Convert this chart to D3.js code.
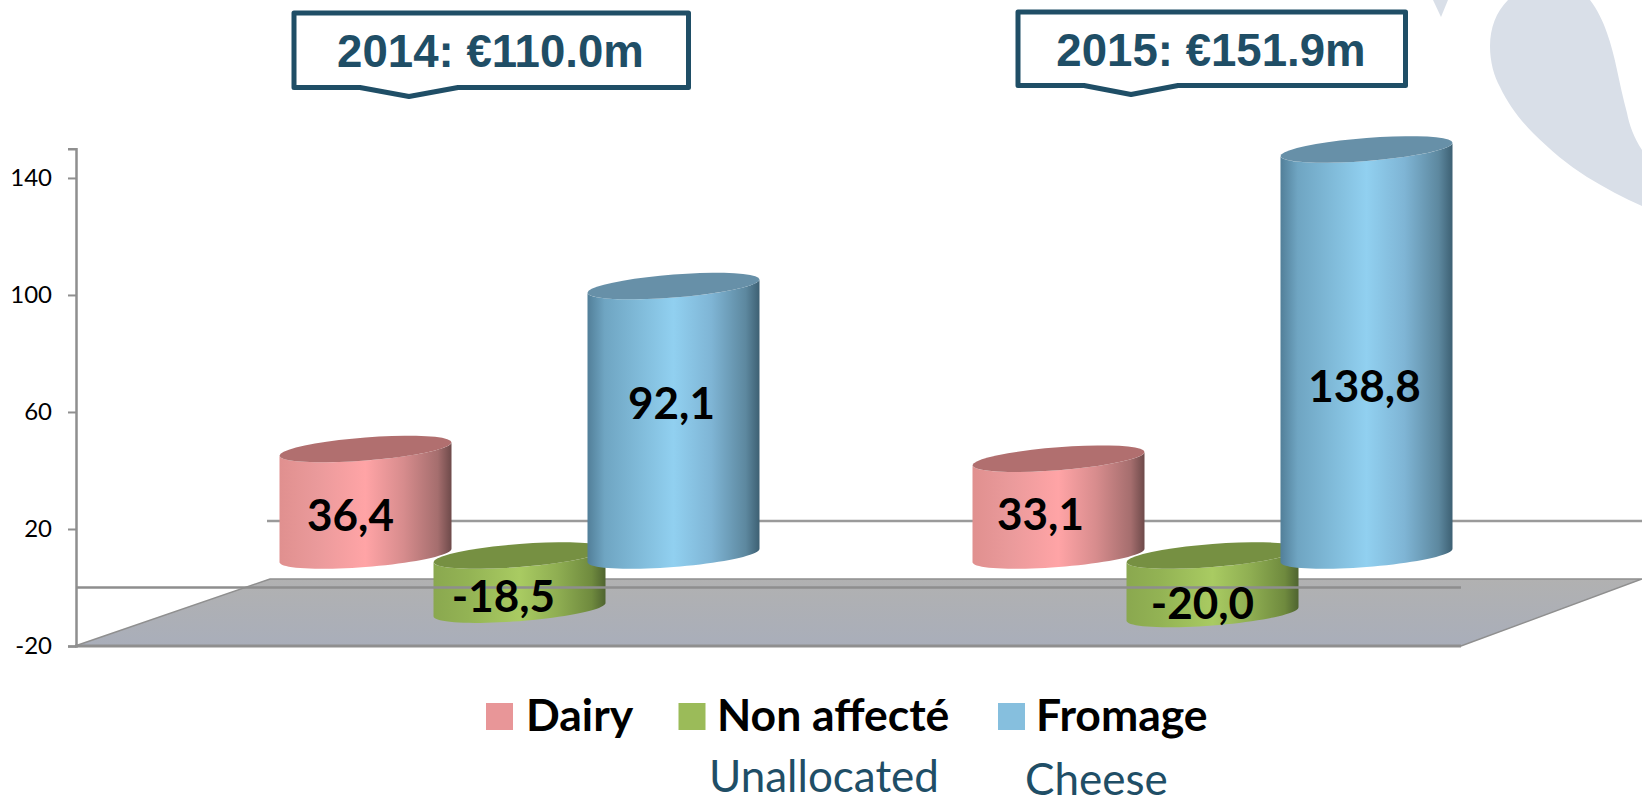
<!DOCTYPE html>
<html><head><meta charset="utf-8">
<script src="https://cdn.jsdelivr.net/npm/d3@7"></script>
<style>html,body{margin:0;padding:0;background:#fff;overflow:hidden}svg{display:block}</style>
</head><body><svg id="c" width="1642" height="799"></svg>
<script>
const years = ["2014", "2015"];
const yearTotals = ["2014: €110.0m", "2015: €151.9m"];
const seriesNames = ["Dairy", "Non affecté", "Fromage"];
const seriesTranslations = ["", "Unallocated", "Cheese"];
const dairy = [36.4, 33.1];
const unallocated = [-18.5, -20.0];
const fromage = [92.1, 138.8];
const tickValues = [-20, 20, 60, 100, 140];

const svg = d3.select("#c");
const defs = svg.append("defs");
const INK = "#1f4e66", AXIS = "#8f8f8f";
const y = d3.scaleLinear().domain([-20, 150]).range([646, 148.7]);
const xYear = d3.scaleBand().domain(years).range([173, 1559]);
const xSeries = d3.scaleBand().domain(seriesNames).range([-231, 231]);
const W = 86, H = 13.3, PHI = Math.PI / 3, LIFT = 32;

const skins = [
 {top:"#b16f6f", stops:[[0,"#e0908f"],[.22,"#ea9a9b"],[.5,"#ffa4a6"],[.72,"#d78c8d"],[.92,"#a56e6e"],[1,"#6e4a4a"]], swatch:"#e89698"},
 {top:"#769042", stops:[[0,"#8aa84f"],[.2,"#93b354"],[.5,"#a9cb62"],[.72,"#8fae52"],[.92,"#6f8a3e"],[1,"#4f6430"]], swatch:"#9bbb59"},
 {top:"#6790a8", stops:[[0,"#527f99"],[.1,"#6fa5c2"],[.5,"#91d0f0"],[.72,"#7fb5d5"],[.92,"#5d889f"],[1,"#3d6073"]], swatch:"#86bfde"}
];
skins.forEach((s,i)=>{
  const g = defs.append("linearGradient").attr("id","g"+i);
  s.stops.forEach(p=>g.append("stop").attr("offset",p[0]).attr("stop-color",p[1]));
});
const floorGrad = defs.append("linearGradient").attr("id","floor").attr("x1",0).attr("x2",0).attr("y1",0).attr("y2",1);
floorGrad.append("stop").attr("offset",0).attr("stop-color","#b1b1b1");
floorGrad.append("stop").attr("offset",1).attr("stop-color","#a9aeba");

// watermark shapes
svg.append("path").attr("fill","#d9dfe8")
 .attr("d","M1508,0 C1496,12 1490,28 1490,46 C1490,62 1494,76 1500,87 C1508,104 1520,120 1533,133 C1550,150 1568,165 1587,177 C1605,188 1624,198 1642,206 L1642,150 C1634,138 1629,124 1627,113 C1623,98 1620,84 1617,70 C1614,56 1611,44 1607,33 C1603,21 1597,9 1590,0 Z");
svg.append("path").attr("fill","#d9dfe8").attr("d","M1433,0 L1448,0 L1441,17 Z");

// back wall line
svg.append("line").attr("x1",267).attr("x2",1642).attr("y1",y(20)-8).attr("y2",y(20)-8)
 .attr("stroke","#9a9a9a").attr("stroke-width",2.5);

// floor
svg.append("path").attr("d",`M75,${y(-20)} L270,${y(0)-8.5} L1642,${y(0)-8.5} L1461,${y(-20)} Z`)
 .attr("fill","url(#floor)").attr("stroke","#8f8f8f").attr("stroke-width",1.5);
svg.append("line").attr("x1",75).attr("x2",1461).attr("y1",y(-20)).attr("y2",y(-20))
 .attr("stroke",AXIS).attr("stroke-width",3);

// axis
const axis = svg.append("g").attr("transform","translate(76,0)")
 .call(d3.axisLeft(y).tickValues(tickValues).tickSize(8).tickPadding(16).tickFormat(d=>String(d)));
axis.select(".domain").attr("stroke",AXIS).attr("stroke-width",2.5);
axis.selectAll(".tick line").attr("stroke",AXIS).attr("stroke-width",2);
axis.selectAll("text").attr("font-family","Lato").attr("font-size",24).attr("fill","#000");

function pt(cx, cy, t){ return [cx + W*Math.cos(t), cy - H*Math.cos(t-PHI)]; }
const line = d3.line();
function arc(cx, cy, a, b){ return d3.range(0,41).map(i=>pt(cx,cy,a+(b-a)*i/40)); }

const seriesValues = [dairy, unallocated, fromage];
const labelNudge = [[[-15,12.5],[-18,7]],[[-16,14],[-10,18]],[[-2,-18],[-2,34]]];
const fmt = v => d3.format(".1f")(v).replace(".",",").replace("−","-");
const labels = [];
seriesValues.forEach((vals,si)=>{
  vals.forEach((v,yi)=>{
    const cx = xYear(years[yi]) + xYear.bandwidth()/2 + xSeries(seriesNames[si]) + xSeries.bandwidth()/2;
    const yTop = y(Math.max(v,0)) - LIFT, yBot = y(Math.min(v,0)) - LIFT;
    const bar = svg.append("g");
    const pts = [...arc(cx,yBot,-Math.PI,0), ...arc(cx,yTop,0,-Math.PI)];
    bar.append("path").attr("d",line(pts)+"Z").attr("fill",`url(#g${si})`);
    bar.append("path").attr("d",line(arc(cx,yTop,0,2*Math.PI))+"Z").attr("fill",skins[si].top);
    labels.push({t:fmt(v), x:cx+labelNudge[si][yi][0], y:(yTop+yBot)/2+labelNudge[si][yi][1]});
  });
});

// zero line
svg.append("line").attr("x1",76).attr("x2",1461).attr("y1",y(0)).attr("y2",y(0))
 .attr("stroke","#8e8e8e").attr("stroke-width",2.5);

// data labels
svg.append("g").selectAll("text").data(labels).join("text")
 .attr("x",d=>d.x).attr("y",d=>d.y).attr("dy","0.36em").attr("text-anchor","middle")
 .attr("font-family","Lato").attr("font-weight",700).attr("font-size",44).attr("fill","#000")
 .text(d=>d.t);

// callouts
const boxes = [
 {l:294,r:688.5,t:13,b:87.5,p1:360,p2:458,tip:409,tx:490.5,by:67},
 {l:1018,r:1405.5,t:12,b:85.5,p1:1084,p2:1178,tip:1131,tx:1211,by:65.5}
];
boxes.forEach((b,i)=>{
  svg.append("path").attr("d",line([[b.l,b.t],[b.r,b.t],[b.r,b.b],[b.p2,b.b],[b.tip,b.b+9],[b.p1,b.b],[b.l,b.b]])+"Z")
   .attr("fill","#fff").attr("stroke",INK).attr("stroke-width",5).attr("stroke-linejoin","round");
  svg.append("text").attr("x",b.tx).attr("y",b.by).attr("text-anchor","middle")
   .attr("font-family","Liberation Sans").attr("font-weight",700).attr("font-size",45.6).attr("fill",INK)
   .text(yearTotals[i]);
});

// legend
const legendPos = [
 {sx:486,tx:526,ux:0,uy:0},
 {sx:678.5,tx:717,ux:709,uy:792},
 {sx:998,tx:1036,ux:1025,uy:795}
];
seriesNames.forEach((n,i)=>{
  const p = legendPos[i];
  svg.append("rect").attr("x",p.sx).attr("y",703).attr("width",27).attr("height",27).attr("fill",skins[i].swatch);
  svg.append("text").attr("x",p.tx).attr("y",731).attr("font-family","Lato").attr("font-weight",700)
   .attr("font-size",44.5).attr("fill","#000").text(n);
  if(seriesTranslations[i]) svg.append("text").attr("x",p.ux).attr("y",p.uy).attr("font-family","Lato")
   .attr("font-size",44).attr("fill",INK).text(seriesTranslations[i]);
});
</script></body></html>
